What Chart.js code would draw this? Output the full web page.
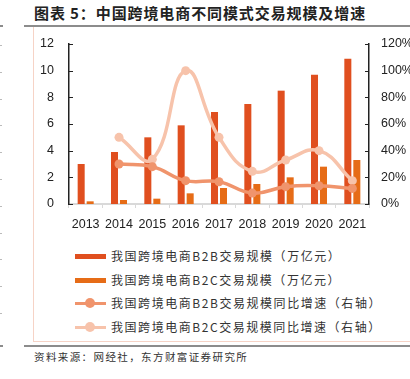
<!DOCTYPE html>
<html><head><meta charset="utf-8">
<script src="https://cdn.jsdelivr.net/npm/chart.js@4"></script>
<style>
html,body{margin:0;padding:0;background:#fff;width:410px;height:379px;overflow:hidden;position:relative;font-family:"Noto Sans CJK SC","Liberation Sans",sans-serif;}
.abs{position:absolute;}
#title{left:34px;top:3px;font-size:15px;font-weight:bold;color:#222;letter-spacing:0.9px;white-space:nowrap;line-height:20px;}
.rule{background:#8c8c8c;height:2px;}
#panelL{left:33px;top:27px;width:1px;height:315px;background:#f6d3c6;}
#panelB{left:33px;top:341px;width:377px;height:1px;background:#f6d3c6;}
#src{left:34px;top:349px;font-size:10.5px;color:#333;letter-spacing:1.4px;white-space:nowrap;line-height:16px;}
.lg{position:absolute;left:75px;width:31px;height:14px;}
.lgt{position:absolute;left:111px;font-size:12px;color:#333;letter-spacing:1.55px;white-space:nowrap;line-height:16px;}
.mark{position:absolute;left:0;width:2px;height:1px;background:#bbb;}
canvas{position:absolute;left:0;top:0;}
</style></head>
<body>
<div id="title" class="abs">图表 5：中国跨境电商不同模式交易规模及增速</div>
<div class="abs rule" style="left:0;top:25px;width:3px;"></div>
<div class="abs rule" style="left:24px;top:25px;width:386px;"></div>
<div id="panelL" class="abs"></div>
<div id="panelB" class="abs"></div>
<div class="abs rule" style="left:0;top:345px;width:3px;"></div>
<div class="abs rule" style="left:24px;top:345px;width:386px;"></div>
<div id="src" class="abs">资料来源：网经社，东方财富证券研究所</div>
<canvas id="c" width="410" height="240"></canvas>
<div id="legend"></div>
<script>
const categories = ['2013','2014','2015','2016','2017','2018','2019','2020','2021'];
const b2bScale = [3.0, 3.9, 5.0, 5.9, 6.9, 7.5, 8.5, 9.7, 10.9];
const b2cScale = [0.2, 0.3, 0.4, 0.8, 1.2, 1.5, 2.0, 2.8, 3.3];
const b2bGrowth = [null, 30, 28, 17.5, 16.7, 8.2, 13, 13.7, 11.7];
const b2cGrowth = [null, 50, 33.5, 100, 50, 24.5, 33, 40, 17.5];
const leftTicks = [0, 2, 4, 6, 8, 10, 12];
const rightTicks = [0, 20, 40, 60, 80, 100, 120];
const seriesNames = [
  '我国跨境电商B2B交易规模（万亿元）',
  '我国跨境电商B2C交易规模（万亿元）',
  '我国跨境电商B2B交易规模同比增速（右轴）',
  '我国跨境电商B2C交易规模同比增速（右轴）'
];
const colors = ['#e04f1f', '#e66c17', '#f0946c', '#f7c3ab'];

// faint page marks at left edge
for (let i = 0; i < 11; i++) {
  const m = document.createElement('div');
  m.className = 'mark';
  m.style.top = Math.round(45 + i * 26.8) + 'px';
  document.body.appendChild(m);
}

// legend
const lg = document.getElementById('legend');
const lgY = [256, 279.5, 303, 326.5];
seriesNames.forEach((name, i) => {
  const sym = document.createElement('div');
  sym.className = 'lg';
  sym.style.top = (lgY[i] - 7) + 'px';
  if (i < 2) {
    sym.innerHTML = '<div style="position:absolute;left:0;top:5px;width:31px;height:5px;background:' + colors[i] + '"></div>';
  } else {
    sym.innerHTML = '<div style="position:absolute;left:0;top:6px;width:31px;height:3px;background:' + colors[i] + '"></div>' +
      '<div style="position:absolute;left:10px;top:2px;width:10px;height:10px;border-radius:50%;background:' + colors[i] + '"></div>';
  }
  lg.appendChild(sym);
  const t = document.createElement('div');
  t.className = 'lgt';
  t.style.top = (lgY[i] - 8) + 'px';
  t.textContent = name;
  lg.appendChild(t);
});

const innerTicks = {
  id: 'innerTicks',
  afterDraw(chart) {
    const ctx = chart.ctx, a = chart.chartArea;
    ctx.save();
    ctx.strokeStyle = '#222';
    ctx.lineWidth = 1;
    leftTicks.forEach(v => {
      const y = Math.round(chart.scales.y.getPixelForValue(v)) + 0.5;
      ctx.beginPath(); ctx.moveTo(a.left, y); ctx.lineTo(a.left + 4, y); ctx.stroke();
    });
    rightTicks.forEach(v => {
      const y = Math.round(chart.scales.y1.getPixelForValue(v)) + 0.5;
      ctx.beginPath(); ctx.moveTo(a.right - 4, y); ctx.lineTo(a.right, y); ctx.stroke();
    });
    ctx.restore();
  }
};

const tickFont = { family: '"Liberation Sans", Arial, sans-serif', size: 12.5 };

new Chart(document.getElementById('c'), {
  data: {
    labels: categories,
    datasets: [
      { type: 'bar', label: seriesNames[0], data: b2bScale, yAxisID: 'y', backgroundColor: colors[0], categoryPercentage: 0.54, barPercentage: 0.78, order: 2 },
      { type: 'bar', label: seriesNames[1], data: b2cScale, yAxisID: 'y', backgroundColor: colors[1], categoryPercentage: 0.54, barPercentage: 0.78, order: 2 },
      { type: 'line', label: seriesNames[3], data: b2cGrowth, yAxisID: 'y1', borderColor: colors[3], backgroundColor: colors[3], borderWidth: 3.5, pointRadius: 4.5, pointBorderWidth: 0, pointBackgroundColor: colors[3], tension: 0.45, order: 1 },
      { type: 'line', label: seriesNames[2], data: b2bGrowth, yAxisID: 'y1', borderColor: colors[2], backgroundColor: colors[2], borderWidth: 3.5, pointRadius: 4.5, pointBorderWidth: 0, pointBackgroundColor: colors[2], tension: 0.45, order: 0 }
    ]
  },
  options: {
    responsive: false,
    animation: false,
    devicePixelRatio: 1,
    layout: { padding: { left: 34, top: 44, right: 0, bottom: 0 } },
    plugins: { legend: { display: false }, tooltip: { enabled: false } },
    scales: {
      x: {
        offset: true,
        grid: { display: true, drawOnChartArea: false, drawTicks: true, tickLength: 4, color: '#d9d9d9', offset: true, lineWidth: 1 },
        border: { display: true, color: '#d9d9d9', width: 2 },
        ticks: { font: tickFont, color: '#222', padding: 9, maxRotation: 0, autoSkip: false },
        afterFit(s) { s.height = 36; }
      },
      y: {
        position: 'left', min: 0, max: 12,
        afterBuildTicks(s) { s.ticks = leftTicks.map(v => ({ value: v })); },
        grid: { display: false, drawTicks: false },
        border: { display: true, color: '#222', width: 1.5 },
        ticks: { font: tickFont, color: '#222', padding: 15 },
        afterFit(s) { s.width = 35; }
      },
      y1: {
        position: 'right', min: 0, max: 120,
        afterBuildTicks(s) { s.ticks = rightTicks.map(v => ({ value: v })); },
        grid: { display: false, drawTicks: false },
        border: { display: true, color: '#222', width: 1.5 },
        ticks: { font: tickFont, color: '#222', padding: 12, callback: v => v + '%' },
        afterFit(s) { s.width = 41; }
      }
    }
  },
  plugins: [innerTicks]
});
</script>
</body></html>
